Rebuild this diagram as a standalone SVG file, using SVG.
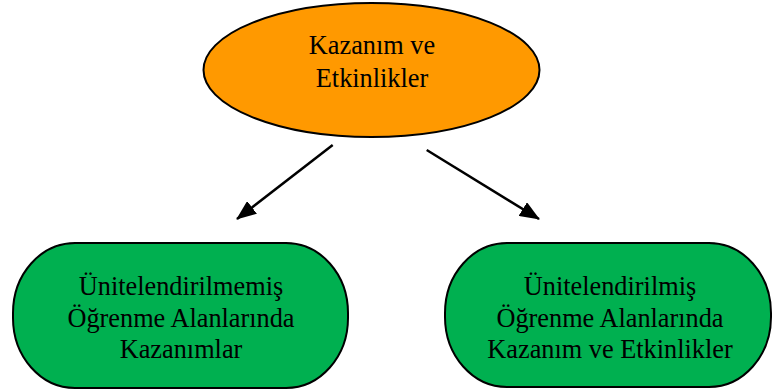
<svg xmlns="http://www.w3.org/2000/svg" width="773" height="391" viewBox="0 0 773 391">
<style>
text{font-family:"Liberation Serif","Times New Roman",serif;font-size:26.3px;fill:#000;text-anchor:middle}
.n{stroke:#000;stroke-width:2}
.c{stroke:#000;stroke-width:2.5;fill:none}
</style>
<defs>
<marker id="a" viewBox="0 0 20 16" refX="19" refY="8" markerWidth="20" markerHeight="16" orient="auto" markerUnits="userSpaceOnUse">
<path d="M0,0 L20,8 L0,16 Z" fill="#000"/>
</marker>
</defs>
<g id="top">
<ellipse class="n" cx="371.5" cy="70" rx="168" ry="67" fill="#FF9900"/>
<text x="372" y="54">Kazanım ve</text>
<text x="372" y="87">Etkinlikler</text>
</g>
<g id="left">
<rect class="n" x="13" y="243" width="335" height="145" rx="62" ry="70" fill="#00B050"/>
<text x="181" y="295">Ünitelendirilmemiş</text>
<text x="181" y="327">Öğrenme Alanlarında</text>
<text x="181" y="358">Kazanımlar</text>
</g>
<g id="right">
<rect class="n" x="445" y="243" width="326" height="144" rx="62" ry="70" fill="#00B050"/>
<text x="610" y="295">Ünitelendirilmiş</text>
<text x="610" y="327">Öğrenme Alanlarında</text>
<text x="610" y="358">Kazanım ve Etkinlikler</text>
</g>
<g id="connectors">
<line class="c" x1="332.7" y1="145" x2="237" y2="219" marker-end="url(#a)"/>
<line class="c" x1="426.7" y1="150" x2="539" y2="219" marker-end="url(#a)"/>
</g>
</svg>
